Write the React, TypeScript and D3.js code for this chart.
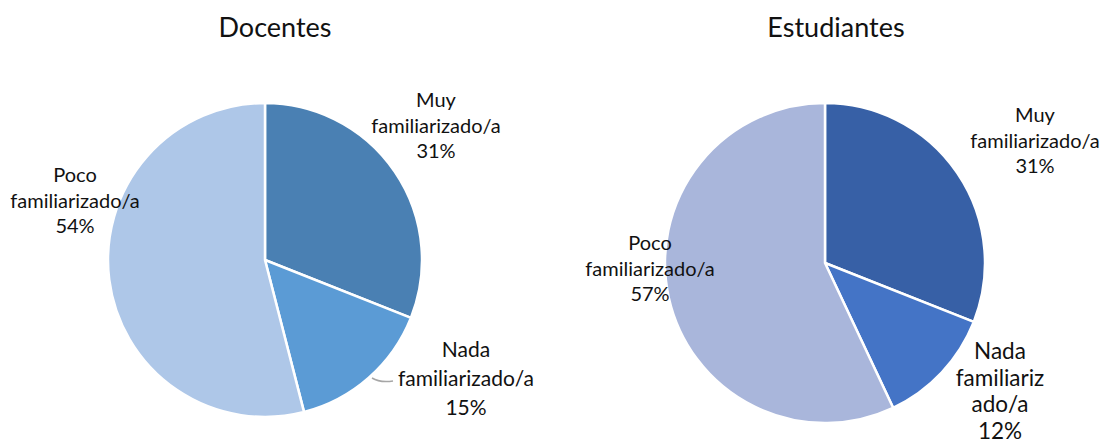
import React from "react";
import * as d3 from "d3";

const categories = ["Muy familiarizado/a", "Nada familiarizado/a", "Poco familiarizado/a"];
const docentesValues = [31, 15, 54];
const estudiantesValues = [31, 12, 57];
const docentesColors = ["#4A80B3", "#5B9BD5", "#AEC7E8"];
const estudiantesColors = ["#3760A6", "#4474C6", "#A9B6DB"];

type Lbl = { lines: string[]; x: number; y: number; size: number; lh: number };

const W = 1102;
const H = 446;
const FONT = "Lato, 'Open Sans', sans-serif";

function Pie({ values, colors, cx, cy, r, title, titleX, labels, leader }: {
  values: number[]; colors: string[]; cx: number; cy: number; r: number; title: string; titleX: number; labels: Lbl[]; leader?: string;
}) {
  const pie = d3.pie<number>().sort(null).value((d) => d);
  const arcs = pie(values);
  const arc = d3.arc<d3.PieArcDatum<number>>().innerRadius(0).outerRadius(r);
  return (
    <g>
      <text x={titleX} y={37} textAnchor="middle" fontSize={27} fill="#111" fontFamily={FONT}>{title}</text>
      <g transform={`translate(${cx},${cy})`}>
        {arcs.map((a, i) => (
          <path key={i} d={arc(a) || ""} fill={colors[i]} stroke="#fff" strokeWidth={2.5} strokeLinejoin="round" />
        ))}
      </g>
      {leader && <path d={leader} fill="none" stroke="#A6A6A6" strokeWidth={1.5} />}
      {labels.map((l, i) => (
        <text key={i} textAnchor="middle" fontSize={l.size} fill="#111" fontFamily={FONT}>
          {l.lines.map((s, j) => (
            <tspan key={j} x={l.x} y={l.y + j * l.lh}>{s}</tspan>
          ))}
        </text>
      ))}
    </g>
  );
}

export default function App() {
  const pct = (v: number[]) => v.map((x) => `${x}%`);
  const dp = pct(docentesValues);
  const ep = pct(estudiantesValues);
  return (
    <svg width={W} height={H} style={{ position: "absolute", left: 0, top: 0, background: "#fff" }}>
      <Pie
        values={docentesValues}
        colors={docentesColors}
        cx={265}
        cy={260}
        r={157}
        title="Docentes"
        titleX={275}
        leader="M372,378 Q380,383 393,381"
        labels={[
          { lines: ["Muy", "familiarizado/a", dp[0]], x: 436, y: 107, size: 20, lh: 25.5 },
          { lines: ["Nada", "familiarizado/a", dp[1]], x: 466, y: 357, size: 21, lh: 29 },
          { lines: ["Poco", "familiarizado/a", dp[2]], x: 75, y: 182, size: 20, lh: 25.5 },
        ]}
      />
      <Pie
        values={estudiantesValues}
        colors={estudiantesColors}
        cx={825}
        cy={263}
        r={160}
        title="Estudiantes"
        titleX={836}
        labels={[
          { lines: ["Muy", "familiarizado/a", ep[0]], x: 1035, y: 122, size: 20, lh: 25.5 },
          { lines: ["Nada", "familiariz", "ado/a", ep[1]], x: 1000, y: 359, size: 22.5, lh: 26.5 },
          { lines: ["Poco", "familiarizado/a", ep[2]], x: 650, y: 250, size: 20, lh: 25.5 },
        ]}
      />
    </svg>
  );
}
